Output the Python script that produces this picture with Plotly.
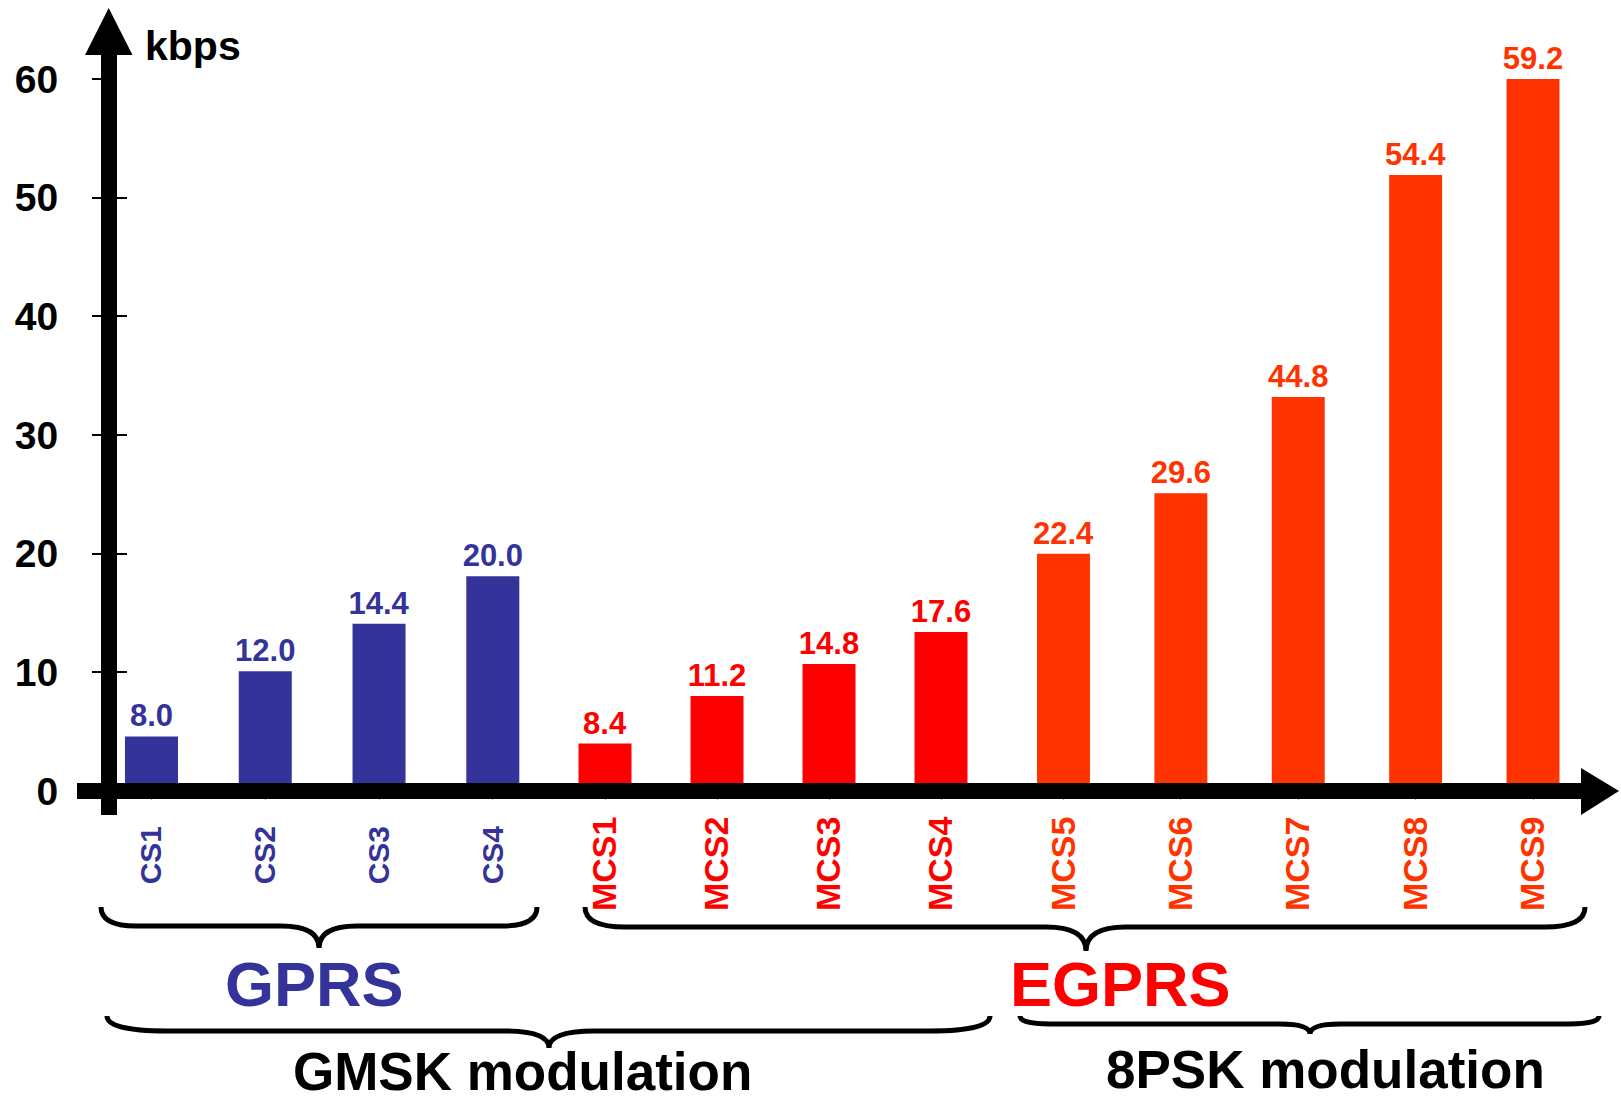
import plotly.graph_objects as go

# ---------------- data ----------------
gprs_categories = ["CS1", "CS2", "CS3", "CS4"]
gprs_bar_heights = [4.6, 10.1, 14.1, 18.1]
gprs_value_labels = ["8.0", "12.0", "14.4", "20.0"]

gmsk_mcs_categories = ["MCS1", "MCS2", "MCS3", "MCS4"]
gmsk_mcs_bar_heights = [4.0, 8.0, 10.7, 13.4]
gmsk_mcs_value_labels = ["8.4", "11.2", "14.8", "17.6"]

psk_mcs_categories = ["MCS5", "MCS6", "MCS7", "MCS8", "MCS9"]
psk_mcs_bar_heights = [20.0, 25.1, 33.2, 51.9, 60.0]
psk_mcs_value_labels = ["22.4", "29.6", "44.8", "54.4", "59.2"]

y_tick_values = [0, 10, 20, 30, 40, 50, 60]
y_tick_labels = ["0", "10", "20", "30", "40", "50", "60"]

# ---------------- styles ----------------
W, H = 1621, 1103
BLUE = "#333399"
RED = "#FF0000"
ORANGE = "#FF3300"
FONT = "Liberation Sans, Arial, sans-serif"


def px(x):
    return x / W


def py(y):
    return 1 - y / H


fig = go.Figure()


def add_group(cats, heights, labels, color, width, xa):
    fig.add_trace(go.Bar(
        x=cats, y=heights, xaxis=xa, yaxis="y",
        marker=dict(color=color, line=dict(width=0)),
        width=width,
        text=labels, textposition="outside",
        textfont=dict(family=FONT, size=31, color=color, weight="bold"),
        constraintext="none", cliponaxis=False,
        showlegend=False, hoverinfo="skip",
    ))


add_group(gprs_categories, gprs_bar_heights, gprs_value_labels, BLUE, 0.466, "x")
add_group(gmsk_mcs_categories, gmsk_mcs_bar_heights, gmsk_mcs_value_labels, RED, 0.473, "x2")
add_group(psk_mcs_categories, psk_mcs_bar_heights, psk_mcs_value_labels, ORANGE, 0.451, "x3")

# helper trace so the inner tick axis is drawn
fig.add_trace(go.Scatter(x=[None], y=[None], xaxis="x", yaxis="y2",
                         showlegend=False, hoverinfo="skip"))


def xaxis_style(domain, color, size, standoff):
    return dict(
        domain=domain, anchor="y", type="category", automargin=False,
        showline=False, showgrid=False, zeroline=False,
        ticks="outside", ticklen=8, tickwidth=1, tickcolor="#999999",
        tickangle=-90, ticklabelstandoff=standoff,
        tickfont=dict(family=FONT, size=size, color=color, weight="bold"),
        fixedrange=True,
    )


y_dom = [py(791), py(79)]
axis_x = px(109)

fig.update_layout(
    template="none",
    width=W, height=H, autosize=False,
    margin=dict(l=0, r=0, t=0, b=0, pad=0),
    paper_bgcolor="white", plot_bgcolor="rgba(0,0,0,0)",
    xaxis=xaxis_style([px(94.6), px(549.7)], BLUE, 30, 14),
    xaxis2=xaxis_style([px(549), px(997)], RED, 34, 3),
    xaxis3=xaxis_style([px(1004.8), px(1591.7)], ORANGE, 34, 3),
    yaxis=dict(
        domain=y_dom, range=[0, 60], anchor="free", position=axis_x,
        automargin=False,
        tickvals=y_tick_values, ticktext=y_tick_labels,
        ticks="outside", ticklen=17, tickwidth=2, tickcolor="black",
        ticklabelstandoff=26,
        tickfont=dict(family=FONT, size=39, color="black", weight="bold"),
        showline=False, showgrid=False, zeroline=False, fixedrange=True,
    ),
    yaxis2=dict(
        overlaying="y", range=[0, 60], anchor="free", position=axis_x,
        automargin=False,
        tickvals=y_tick_values, showticklabels=False,
        ticks="inside", ticklen=17, tickwidth=2, tickcolor="black",
        showline=False, showgrid=False, zeroline=False, fixedrange=True,
    ),
)

shapes = []
# axes lines and arrow heads
shapes.append(dict(type="line", xref="paper", yref="paper",
                   x0=px(109), x1=px(109), y0=py(815), y1=py(50),
                   line=dict(color="black", width=16)))
shapes.append(dict(type="path", xref="paper", yref="paper",
                   path=f"M {px(85)} {py(55)} L {px(132.5)} {py(55)} L {px(108.7)} {py(8)} Z",
                   fillcolor="black", line=dict(width=0)))
shapes.append(dict(type="line", xref="paper", yref="paper",
                   x0=px(77), x1=px(1585), y0=py(791), y1=py(791),
                   line=dict(color="black", width=16)))
shapes.append(dict(type="path", xref="paper", yref="paper",
                   path=f"M {px(1581)} {py(768)} L {px(1581)} {py(815)} L {px(1619)} {py(791)} Z",
                   fillcolor="black", line=dict(width=0)))


def brace(x0, x1, xc, ytop, yline, ycusp, r, rc):
    p = (f"M {px(x0)} {py(ytop)} "
         f"Q {px(x0)} {py(yline)} {px(x0 + r)} {py(yline)} "
         f"L {px(xc - rc)} {py(yline)} "
         f"Q {px(xc)} {py(yline)} {px(xc)} {py(ycusp)} "
         f"Q {px(xc)} {py(yline)} {px(xc + rc)} {py(yline)} "
         f"L {px(x1 - r)} {py(yline)} "
         f"Q {px(x1)} {py(yline)} {px(x1)} {py(ytop)}")
    return dict(type="path", xref="paper", yref="paper", path=p,
                line=dict(color="black", width=5))


shapes.append(brace(101, 537, 319, 907, 926, 948, 35, 38))
shapes.append(brace(585, 1585, 1086, 907, 927, 951, 40, 40))
shapes.append(brace(107, 990, 549, 1016, 1031, 1048, 60, 45))
shapes.append(brace(1020, 1599, 1310, 1016, 1024, 1034, 30, 30))
fig.update_layout(shapes=shapes)

annotations = [
    dict(text="kbps", x=px(193), y=py(46), size=41, color="black", ya="middle"),
    dict(text="GPRS", x=px(314.7), y=py(984), size=63, color=BLUE, ya="middle"),
    dict(text="EGPRS", x=px(1120.5), y=py(984), size=63, color=RED, ya="middle"),
    dict(text="GMSK modulation", x=px(522), y=py(1102), size=53, color="black", ya="bottom"),
    dict(text="8PSK modulation", x=px(1325), y=py(1100), size=53, color="black", ya="bottom"),
]
fig.update_layout(annotations=[
    dict(text=a["text"], x=a["x"], y=a["y"], xref="paper", yref="paper",
         xanchor="center", yanchor=a["ya"], showarrow=False, borderpad=0,
         font=dict(family=FONT, size=a["size"], color=a["color"], weight="bold"))
    for a in annotations
])

fig.write_html("out.html", config={"displayModeBar": False},
               post_script="document.body.style.margin='0';document.body.style.overflow='hidden';")
